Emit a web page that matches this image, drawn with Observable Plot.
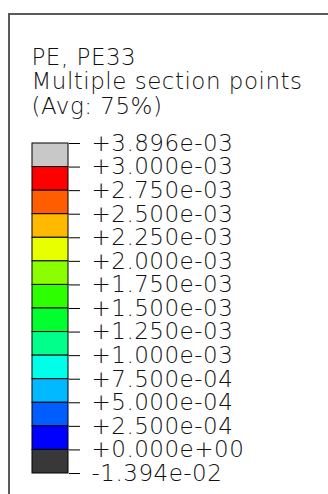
<!DOCTYPE html>
<html>
<head>
<meta charset="utf-8">
<script src="https://cdn.jsdelivr.net/npm/d3@7"></script>
<script src="https://cdn.jsdelivr.net/npm/@observablehq/plot@0.6"></script>
<style>
  html, body { margin: 0; padding: 0; background: #fff; overflow: hidden; }
  body { position: relative; width: 328px; height: 494px; }
  #frame {
    position: absolute; left: 8px; top: 13px; width: 400px; height: 600px;
    border-left: 2px solid #5a5a5a; border-top: 2px solid #5a5a5a;
  }
  #chart { position: absolute; left: 0; top: 0; }
</style>
</head>
<body>
<div id="frame"></div>
<div id="chart"></div>
<script>
// Contour legend: variable name, section point note and averaging threshold
const titleLines = ["PE, PE33", "Multiple section points", "(Avg: 75%)"];

// Contour level boundaries, top to bottom (max, limits..., min)
const levels = [
  3.896e-3, 3.0e-3, 2.75e-3, 2.5e-3, 2.25e-3, 2.0e-3, 1.75e-3,
  1.5e-3, 1.25e-3, 1.0e-3, 7.5e-4, 5.0e-4, 2.5e-4, 0, -1.394e-2
];

// Band colours, top to bottom (above-limit grey, spectrum red → blue, below-limit dark grey)
const bandColors = [
  "#c8c8c8", "#ff0000", "#ff5d00", "#ffb900", "#e8ff00", "#8bff00", "#2eff00",
  "#00ff2e", "#00ff8b", "#00ffe8", "#00b9ff", "#005dff", "#0000ff", "#383838"
];

// Abaqus-style scientific notation: +3.896e-03
function sci(v) {
  const [m, e] = Math.abs(v).toExponential(3).split("e");
  const ev = +e;
  const es = (ev < 0 ? "-" : "+") + String(Math.abs(ev)).padStart(2, "0");
  return (v < 0 ? "-" : "+") + m + "e" + es;
}

const bands = bandColors.map((color, i) => ({index: i, color}));

// header lines, stacked above the colour bar
const headerMarks = titleLines.map((line, i) =>
  Plot.text([line], {
    frameAnchor: "top-left",
    textAnchor: "start",
    lineAnchor: "top",
    fontSize: 23,
    dx: -1,
    dy: -95 + i * 24.5,
    fill: "#111",
    style: {letterSpacing: "0.9px"}
  })
);

const plot = Plot.plot({
  width: 328,
  height: 494,
  marginTop: 143,
  marginBottom: 21,
  marginLeft: 32,
  marginRight: 260,
  style: {
    background: "transparent",
    fontFamily: "DejaVu Sans, sans-serif",
    fontSize: "23px",
    fontWeight: 200,
    letterSpacing: "0.5px",
    color: "#111"
  },
  y: {domain: [0, levels.length - 1], reverse: true},
  marks: [
    ...headerMarks,
    Plot.rect(bands, {
      y1: "index",
      y2: d => d.index + 1,
      fill: "color",
      stroke: "#000",
      strokeWidth: 1
    }),
    Plot.axisY(d3.range(levels.length), {
      anchor: "right",
      tickSize: 11,
      tickPadding: 12,
      tickFormat: i => sci(levels[i]),
      label: null,
      stroke: "#000"
    })
  ]
});

document.getElementById("chart").append(plot);
</script>
</body>
</html>
